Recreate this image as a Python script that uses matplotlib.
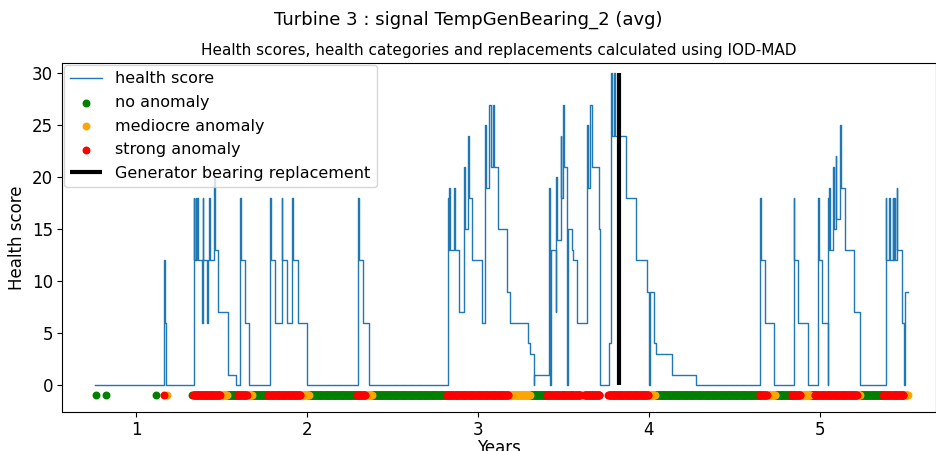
import numpy as np
import matplotlib
matplotlib.use("Agg")
import matplotlib.pyplot as plt

# health score breakpoints (years, score), drawn as steps
years = [0.760, 1.162, 1.167, 1.177, 1.338, 1.341, 1.349, 1.353, 1.357, 1.360,
         1.384, 1.389, 1.393, 1.413, 1.424, 1.429, 1.433, 1.456, 1.460, 1.482,
         1.538, 1.585, 1.607, 1.613, 1.638, 1.661, 1.784, 1.788, 1.813, 1.853,
         1.857, 1.882, 1.915, 1.919, 1.946, 1.999, 2.301, 2.307, 2.327, 2.363,
         2.827, 2.831, 2.833, 2.837, 2.862, 2.867, 2.890, 2.921, 2.925, 2.943,
         2.948, 2.968, 3.023, 3.044, 3.048, 3.065, 3.077, 3.091, 3.095, 3.120,
         3.172, 3.188, 3.292, 3.305, 3.327, 3.331, 3.417, 3.424, 3.428, 3.456,
         3.459, 3.463, 3.485, 3.489, 3.500, 3.504, 3.524, 3.528, 3.553, 3.559,
         3.579, 3.637, 3.643, 3.656, 3.666, 3.709, 3.715, 3.768, 3.779, 3.787,
         3.797, 3.803, 3.867, 3.924, 3.992, 4.003, 4.009, 4.031, 4.041, 4.138,
         4.275, 4.653, 4.657, 4.682, 4.735, 4.850, 4.852, 4.875, 4.930, 4.989,
         4.995, 5.016, 5.047, 5.051, 5.055, 5.057, 5.061, 5.080, 5.084, 5.094,
         5.097, 5.119, 5.123, 5.148, 5.201, 5.236, 5.386, 5.390, 5.408, 5.412,
         5.427, 5.431, 5.437, 5.441, 5.451, 5.454, 5.480, 5.492, 5.499, 5.519]
scores = [0, 12, 6, 0, 18, 12, 18, 12, 18, 12,
          6, 18, 12, 6, 12, 18, 12, 20, 13, 7,
          1, 0, 18, 12, 6, 0, 18, 12, 6, 18,
          12, 6, 18, 12, 6, 0, 18, 12, 6, 0,
          18, 13, 19, 13, 19, 13, 7, 21, 15, 24,
          18, 12, 6, 25, 19, 27, 21, 27, 21, 15,
          9, 6, 4, 3, 0, 1, 19, 0, 13, 7,
          20, 14, 24, 18, 27, 21, 0, 15, 13, 12,
          6, 25, 19, 27, 21, 15, 0, 4, 30, 24,
          30, 24, 18, 12, 9, 0, 9, 4, 3, 1,
          0, 18, 12, 6, 0, 18, 12, 6, 0, 18,
          12, 6, 0, 18, 13, 19, 13, 21, 15, 22,
          16, 25, 19, 13, 7, 0, 18, 12, 18, 12,
          18, 12, 18, 12, 19, 13, 6, 0, 9, 9]

# health category periods (years), plotted as daily points at y=-1
cat_start = [0.766, 0.824, 1.115, 1.166, 1.180, 1.330, 1.335, 1.492, 1.531, 1.599,
             1.648, 1.677, 1.774, 1.833, 1.838, 1.901, 1.906, 1.960, 2.008, 2.291,
             2.340, 2.379, 2.818, 2.906, 2.911, 3.178, 3.305, 3.403, 3.598, 3.627,
             3.764, 3.998, 4.037, 4.651, 4.690, 4.739, 4.837, 4.885, 4.944, 4.973,
             5.217, 5.236, 5.373, 5.490]
cat_end = [0.766, 0.824, 1.115, 1.166, 1.180, 1.330, 1.492, 1.531, 1.599, 1.648,
           1.677, 1.774, 1.833, 1.838, 1.901, 1.906, 1.960, 2.008, 2.291, 2.340,
           2.379, 2.818, 2.906, 2.911, 3.178, 3.305, 3.403, 3.598, 3.627, 3.712,
           3.998, 4.037, 4.651, 4.690, 4.739, 4.837, 4.885, 4.944, 4.973, 5.217,
           5.236, 5.373, 5.490, 5.515]
cat_kind = ["no", "no", "no", "strong", "mediocre", "no", "strong", "mediocre", "no", "strong",
            "mediocre", "no", "strong", "mediocre", "strong", "mediocre", "strong", "mediocre", "no", "strong",
            "mediocre", "no", "strong", "mediocre", "strong", "mediocre", "no", "strong", "mediocre", "strong",
            "strong", "mediocre", "no", "strong", "mediocre", "no", "strong", "mediocre", "no", "strong",
            "mediocre", "no", "strong", "mediocre"]

replacement_year = 3.828

kinds = ["no", "mediocre", "strong"]
kind_labels = ["no anomaly", "mediocre anomaly", "strong anomaly"]
kind_colors = ["green", "orange", "red"]

step = 1 / 365.0
pts = {k: [] for k in kinds}
for s, e, k in zip(cat_start, cat_end, cat_kind):
    pts[k].extend(np.arange(s, e + step / 2, step))

fig = plt.figure(figsize=(9.37, 4.51), dpi=100)
ax = fig.add_axes([0.0662, 0.0865, 0.9327, 0.7738])

ax.plot(years, scores, drawstyle="steps-post", color="#1f77b4", linewidth=1, label="health score")
for k, lab, c in zip(kinds, kind_labels, kind_colors):
    x = np.array(pts[k])
    ax.scatter(x, np.full(len(x), -1), s=22, color=c, label=lab, zorder=3)
ax.vlines(replacement_year, 0, 30, color="black", linewidth=3,
          label="Generator bearing replacement", zorder=4)

ax.set_xlim(0.567, 5.681)
ax.set_ylim(-2.6, 31.0)
ax.set_xticks([1, 2, 3, 4, 5])
ax.set_yticks([0, 5, 10, 15, 20, 25, 30])
ax.tick_params(labelsize=12, pad=3)
ax.set_xlabel("Years", fontsize=12, labelpad=0)
ax.set_ylabel("Health score", fontsize=12)
ax.set_title("Health scores, health categories and replacements calculated using IOD-MAD", fontsize=11)
fig.suptitle("Turbine 3 : signal TempGenBearing_2 (avg)", fontsize=13, y=0.956, va="center")
ax.legend(loc="upper left", fontsize=11.5, labelspacing=0.54, borderaxespad=0.12)

fig.savefig("out.png", dpi=100)
